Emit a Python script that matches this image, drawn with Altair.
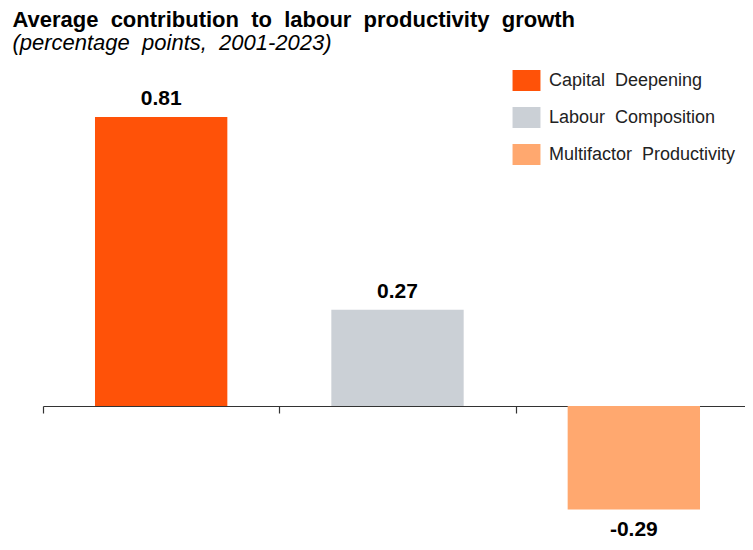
import altair as alt
import pandas as pd

categories = ["Capital Deepening", "Labour Composition", "Multifactor Productivity"]
legend_labels = ["Capital\u00a0 Deepening", "Labour\u00a0 Composition", "Multifactor\u00a0 Productivity"]
values = [0.81, 0.27, -0.29]
labels = ["0.81", "0.27", "-0.29"]
colors = ["#FF5208", "#CBD0D6", "#FFA86F"]

df = pd.DataFrame({"cat": categories, "val": values, "lab": labels})
label_expr = "{" + ", ".join(f"'{c}': '{l}'" for c, l in zip(categories, legend_labels)) + "}[datum.label]"

FONT = "Liberation Sans"
H = 471
W = 702

x = alt.X("cat:N", sort=categories,
          scale=alt.Scale(paddingInner=0, paddingOuter=0, range=[0, 709]),
          axis=alt.Axis(title=None, labels=False, tickBand="extent", domainColor="#333333",
                        tickColor="#333333", tickSize=7, domainWidth=1.2, tickWidth=1.2,
                        offset=-132, grid=False))
y = alt.Y("val:Q", scale=alt.Scale(domain=[-0.37, 0.95], nice=False, zero=False), axis=None)

bars = alt.Chart(df).mark_bar(width={"band": 0.56}).encode(
    x=x, y=y,
    color=alt.Color("cat:N", sort=categories,
                    scale=alt.Scale(domain=categories, range=colors),
                    legend=alt.Legend(title=None, orient="none", legendX=473, legendY=3,
                                      symbolType="M-1.33,-1H1.33V1H-1.33Z", symbolSize=441,
                                      symbolStrokeWidth=0, labelFont=FONT, labelFontSize=18,
                                      labelColor="#222222", labelOffset=12, rowPadding=16,
                                      labelLimit=300, labelExpr=label_expr)),
)

pos = alt.Chart(df).transform_filter("datum.val >= 0").mark_text(
    font=FONT, fontSize=21, fontWeight="bold", baseline="alphabetic", dy=-12, color="#000000"
).encode(x=alt.X("cat:N", sort=categories), y=y, text="lab:N")

neg = alt.Chart(df).transform_filter("datum.val < 0").mark_text(
    font=FONT, fontSize=21, fontWeight="bold", baseline="alphabetic", dy=27, color="#000000"
).encode(x=alt.X("cat:N", sort=categories), y=y, text="lab:N")

chart = alt.layer(bars, pos, neg).properties(
    width=W, height=H,
    autosize=alt.AutoSizeParams(type="none"),
    padding={"left": 35, "top": 59, "right": 0, "bottom": 10},
    title=alt.TitleParams(
        text="Average\u00a0 contribution\u00a0 to\u00a0 labour\u00a0 productivity\u00a0 growth",
        subtitle="(percentage\u00a0 points,\u00a0 2001-2023)",
        anchor="start", dx=-30, offset=12,
        font=FONT, fontSize=22, fontWeight="bold", color="#000000",
        subtitleFont=FONT, subtitleFontSize=22, subtitleFontStyle="italic",
        subtitleColor="#000000", subtitlePadding=1,
    ),
).configure_view(stroke=None)

chart.save("out.html", embed_options={"renderer": "svg", "actions": False})
